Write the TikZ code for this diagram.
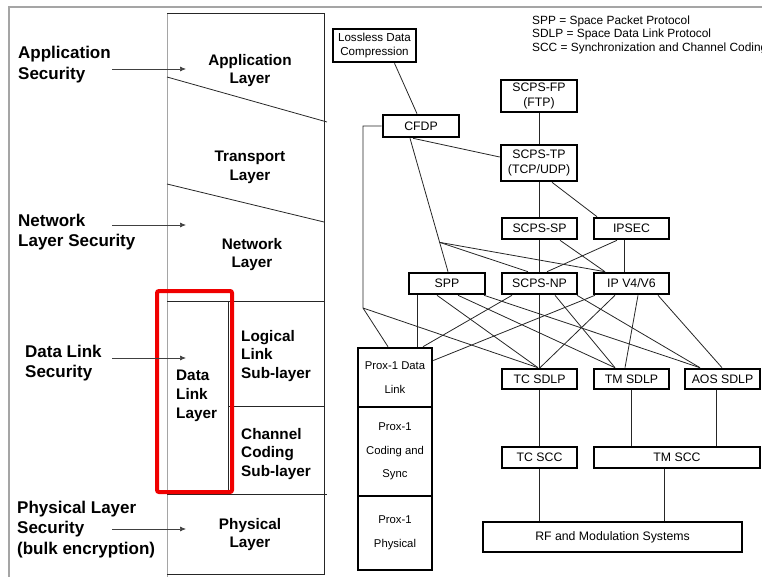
\documentclass[tikz,border=0pt]{standalone}
\usepackage{fontspec}
\setmainfont{Liberation Sans}
\usetikzlibrary{arrows.meta}
\definecolor{framegray}{RGB}{165, 165, 165}
\definecolor{markred}{RGB}{240, 0, 0}

\begin{document}
\begin{tikzpicture}[x=1pt, y=-1pt,
    layer/.style={line width=0.8pt, black!85},
    sec arrow/.style={-{Latex[length=6pt, width=5pt]}, line width=0.7pt, black!75},
    seclabel/.style={anchor=west, align=left, inner sep=0pt,
      font=\fontsize{17}{20.5}\selectfont\bfseries},
    layerlabel/.style={align=center, inner sep=0pt,
      font=\fontsize{15.3}{18.8}\selectfont\bfseries},
    proto/.style={draw, line width=2.6pt, inner sep=0pt, align=center,
      font=\fontsize{12.3}{14.5}\selectfont},
    prox/.style={proto, minimum width=74pt, font=\fontsize{11.3}{23.5}\selectfont},
    link/.style={line width=0.8pt, black!85},
  ]

  \useasboundingbox (0,0) rectangle (762,577);

  % --- outer frame ---
  \draw[framegray, line width=1.2pt] (9,577) -- (9,7) -- (762,7);

  % --- layer column ---
  \draw[framegray, line width=1pt] (167,577) -- (167,13);
  \draw[layer] (167,13) -- (324,13) -- (324,574) -- (167,574);
  \draw[layer] (167,77) -- (327,122);
  \draw[layer] (167,184) -- (324,222);
  \draw[layer] (167,301) -- (324,301);
  \draw[layer] (228,301) -- (228,494);
  \draw[layer] (228,406) -- (324,406);
  \draw[layer] (167,494) -- (327,494);

  \node[layerlabel] (applayer) at (250,70.5) {Application\\Layer};
  \node[layerlabel] (translayer) at (250,167) {Transport\\Layer};
  \node[layerlabel] (netlayer) at (252,254.5) {Network\\Layer};
  \node[layerlabel, anchor=west, align=left] (dllayer) at (176,396) {Data\\Link\\Layer};
  \node[layerlabel, anchor=west, align=left] (lllayer) at (241,356) {Logical\\Link\\Sub-layer};
  \node[layerlabel, anchor=west, align=left] (cclayer) at (241,454) {Channel\\Coding\\Sub-layer};
  \node[layerlabel] (phylayer) at (250,534.5) {Physical\\Layer};

  % highlight round the data link layer
  \draw[markred, line width=4pt, rounded corners=2pt] (157,291) rectangle (232,492);

  % --- security labels ---
  \node[seclabel] (appsec) at (18,64.5) {Application\\Security};
  \node[seclabel] (netsec) at (18,232) {Network\\Layer Security};
  \node[seclabel] (dlsec) at (25,363) {Data Link\\Security};
  \node[seclabel] (physec) at (17,529.5) {Physical Layer\\Security\\(bulk encryption)};

  \foreach \y/\n in {69/app, 225/net, 358/dl, 529/phy} {
    \coordinate (\n-from) at (112,\y);
    \coordinate (\n-to) at (186,\y);
    \draw[sec arrow] (\n-from) -- (\n-to);
  }

  % --- legend ---
  \node[anchor=west, align=left, inner sep=0pt, font=\fontsize{11.9}{13.5}\selectfont]
    (legend) at (532,34.5)
    {SPP = Space Packet Protocol\\SDLP = Space Data Link Protocol\\SCC = Synchronization and Channel Coding};

  % --- protocol boxes ---
  \node[proto, minimum width=83pt, minimum height=33pt, font=\fontsize{11.6}{14}\selectfont]
    (lossless) at (374.5,45.5) {Lossless Data\\Compression};
  \node[proto, minimum width=76pt, minimum height=22pt] (cfdp) at (421,126) {CFDP};
  \node[proto, minimum width=76pt, minimum height=32pt] (scpsfp) at (539,96) {SCPS-FP\\(FTP)};
  \node[proto, minimum width=76pt, minimum height=36pt] (scpstp) at (539,163) {SCPS-TP\\(TCP/UDP)};

  \node[proto, minimum width=75pt, minimum height=21pt] (scpssp) at (539.5,228.5) {SCPS-SP};
  \node[proto, minimum width=75pt, minimum height=21pt] (ipsec) at (631.5,228.5) {IPSEC};

  \node[proto, minimum width=76pt, minimum height=21pt] (spp) at (447,283.5) {SPP};
  \node[proto, minimum width=75pt, minimum height=21pt] (scpsnp) at (539.5,283.5) {SCPS-NP};
  \node[proto, minimum width=75pt, minimum height=21pt] (ipv) at (631.5,283.5) {IP V4/V6};

  \node[prox, minimum height=59pt] (proxdl) at (395,377.5) {Prox-1 Data\\Link};
  \node[prox, minimum height=89pt] (proxcs) at (395,451.5) {Prox-1\\Coding and\\Sync};
  \node[prox, minimum height=74pt] (proxph) at (395,533) {Prox-1\\Physical};

  \node[proto, minimum width=75pt, minimum height=20pt] (tcsdlp) at (539.5,379) {TC SDLP};
  \node[proto, minimum width=75pt, minimum height=20pt] (tmsdlp) at (631.5,379) {TM SDLP};
  \node[proto, minimum width=75pt, minimum height=20pt] (aossdlp) at (722.5,379) {AOS SDLP};

  \node[proto, minimum width=75pt, minimum height=21pt] (tcscc) at (539.5,457.5) {TC SCC};
  \node[proto, minimum width=166pt, minimum height=21pt] (tmscc) at (677,457.5) {TM SCC};

  \node[proto, minimum width=259pt, minimum height=30pt] (rf) at (612.5,537) {RF and Modulation Systems};

  % --- upper links ---
  \coordinate (prox bend) at (363,308);
  \draw[link] ([xshift=20pt]lossless.south) -- ([xshift=-4pt]cfdp.north);
  \draw[link] (cfdp.west) -| (prox bend) -- ([xshift=-7pt]proxdl.north);
  \draw[link] (prox bend) -- ([xshift=-1.5pt]tcsdlp.north);
  \draw[link] ([xshift=-11pt]cfdp.south) -- ([xshift=1pt]spp.north)
    coordinate[pos=0.78] (cfdp fan);
  \draw[link] (cfdp fan) -- ([xshift=-11.5pt]scpsnp.north);
  \draw[link] (cfdp fan) -- ([xshift=-26.5pt]ipv.north);
  \draw[link] ([xshift=-8pt]cfdp.south) -- ([yshift=6pt]scpstp.west);

  \draw[link] (scpsfp.south) -- (scpsfp.south |- scpstp.north);
  \draw[link] (scpstp.south) -- (scpstp.south |- scpssp.north);
  \draw[link] ([xshift=13pt]scpstp.south) -- ([xshift=-34.5pt]ipsec.north);
  \draw[link] (scpssp.south) -- (scpsnp.north);
  \draw[link] ([xshift=20.5pt]scpssp.south) -- ([xshift=-26.5pt]ipv.north);
  \draw[link] ([xshift=-14.5pt]ipsec.south) -- ([xshift=7.5pt]scpsnp.north);
  \draw[link] ([xshift=-7.5pt]ipsec.south) -- ([xshift=-7.5pt]ipv.north);

  % --- network to link layer ---
  \draw[link] ([xshift=-30pt]spp.south) -- ([xshift=22pt]proxdl.north);
  \draw[link] ([xshift=-10pt]spp.south) -- ([xshift=-1.5pt]tcsdlp.north);
  \draw[link] ([xshift=11pt]spp.south) -- ([xshift=-16.5pt]tmsdlp.north);
  \draw[link] ([xshift=37pt]spp.south) -- ([xshift=-22.5pt]aossdlp.north);
  \draw[link] ([xshift=-27.5pt]scpsnp.south) -- ([xshift=28pt]proxdl.north);
  \draw[link] (scpsnp.south) -- (tcsdlp.north);
  \draw[link] ([xshift=15.5pt]scpsnp.south) -- ([xshift=-16.5pt]tmsdlp.north);
  \draw[link] ([xshift=37.5pt]scpsnp.south) -- ([xshift=-22.5pt]aossdlp.north);
  \draw[link] ([xshift=-36.5pt]ipv.south) -- ([yshift=17pt]proxdl.east);
  \draw[link] ([xshift=-16.5pt]ipv.south) -- ([xshift=0.5pt]tcsdlp.north);
  \draw[link] ([xshift=6.5pt]ipv.south) -- ([xshift=-6.5pt]tmsdlp.north);
  \draw[link] ([xshift=26.5pt]ipv.south) -- ([xshift=-0.5pt]aossdlp.north);

  % --- link layer to coding and RF ---
  \draw[link] (tcsdlp.south) -- (tcscc.north);
  \draw[link] (tmsdlp.south) -- (tmsdlp.south |- tmscc.north);
  \draw[link] ([xshift=-6.5pt]aossdlp.south) -- ([xshift=-6.5pt]aossdlp.south |- tmscc.north);
  \draw[link] (tcscc.south) -- (tcscc.south |- rf.north);
  \draw[link] ([xshift=-13pt]tmscc.south) -- ([xshift=-13pt]tmscc.south |- rf.north);

\end{tikzpicture}
\end{document}
